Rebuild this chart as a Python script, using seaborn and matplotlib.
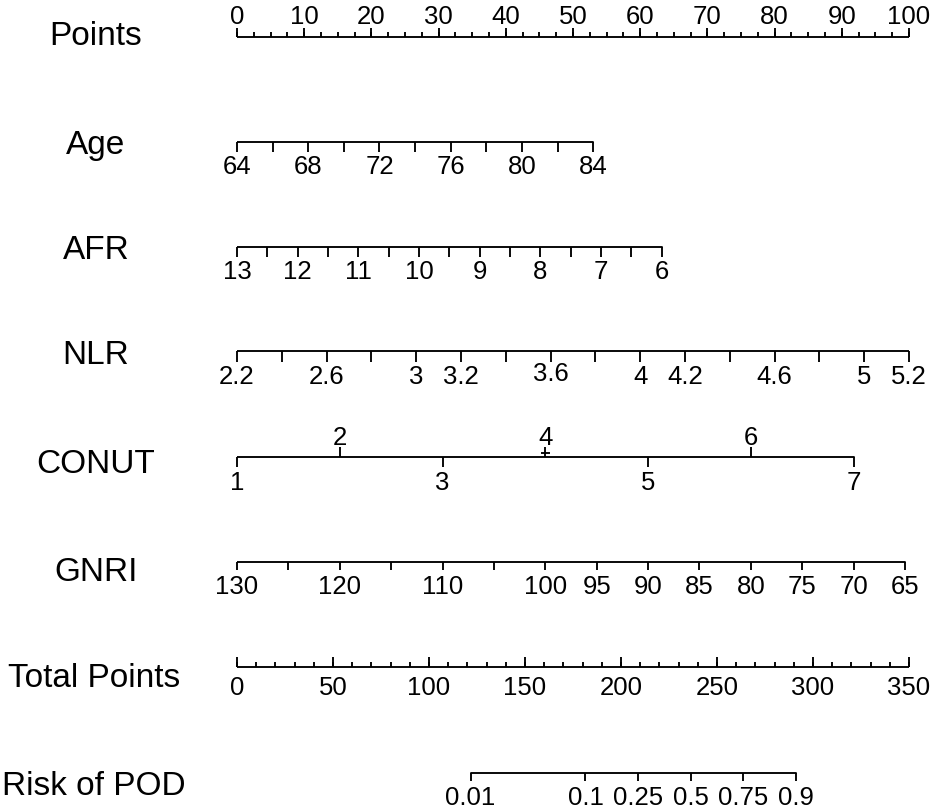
import numpy as np
import pandas as pd
import matplotlib
matplotlib.use("Agg")
import matplotlib.pyplot as plt
import seaborn as sns

# ---------------- data ----------------
points_major = [0, 10, 20, 30, 40, 50, 60, 70, 80, 90, 100]
points_minor_step = 2.5

age_range = [64, 84]            # variable range
age_points = [0.0, 53.0]        # points at the ends of the range
age_ticks = [64, 66, 68, 70, 72, 74, 76, 78, 80, 82, 84]
age_labels = [64, 68, 72, 76, 80, 84]

afr_range = [13, 6]
afr_points = [0.0, 63.2]
afr_ticks = [13, 12.5, 12, 11.5, 11, 10.5, 10, 9.5, 9, 8.5, 8, 7.5, 7, 6.5, 6]
afr_labels = [13, 12, 11, 10, 9, 8, 7, 6]

nlr_range = [2.2, 5.2]
nlr_points = [0.0, 100.0]
nlr_ticks = [2.2, 2.4, 2.6, 2.8, 3.0, 3.2, 3.4, 3.6, 3.8, 4.0, 4.2, 4.4, 4.6, 4.8, 5.0, 5.2]
nlr_labels = ["2.2", "2.6", "3", "3.2", "3.6", "4", "4.2", "4.6", "5", "5.2"]

conut_range = [1, 7]
conut_points = [0.0, 91.8]
conut_below = [1, 3, 5, 7]
conut_above = [2, 4, 6]

gnri_range = [130, 65]
gnri_points = [0.0, 99.4]
gnri_ticks = [130, 125, 120, 115, 110, 105, 100, 95, 90, 85, 80, 75, 70, 65]
gnri_labels = [130, 120, 110, 100, 95, 90, 85, 80, 75, 70, 65]

total_max = 350
total_major = [0, 50, 100, 150, 200, 250, 300, 350]
total_minor_step = 10

risk_values = [0.01, 0.1, 0.25, 0.5, 0.75, 0.9]
risk_labels = ["0.01", "0.1", "0.25", "0.5", "0.75", "0.9"]
risk_tp_at_half = 236.3       # total points where risk = 0.5
risk_tp_per_logit = 24.95     # total points per unit of log-odds

row_names = ["Points", "Age", "AFR", "NLR", "CONUT", "GNRI", "Total Points", "Risk of POD"]


def to_points(v, rng, pts):
    v = np.asarray(v, dtype=float)
    return pts[0] + (v - rng[0]) / (rng[1] - rng[0]) * (pts[1] - pts[0])


def total_to_x(tp):
    return np.asarray(tp, dtype=float) / total_max * 100.0


def risk_to_x(p):
    p = np.asarray(p, dtype=float)
    tp = risk_tp_at_half + risk_tp_per_logit * np.log(p / (1 - p))
    return total_to_x(tp)


# ---------------- figure ----------------
sns.set_theme(style="white")
plt.rcParams["font.family"] = ["Liberation Sans", "DejaVu Sans"]

W, H = 935, 809
fig = plt.figure(figsize=(W / 100, H / 100), dpi=100)
x0_px, x1_px = 237, 909
ax = fig.add_axes([x0_px / W, 0, (x1_px - x0_px) / W, 1])
ax.set_xlim(0, 100)
ax.set_ylim(H, 0)
ax.axis("off")

LW = 1.35
TICK_FS = 18.5
NAME_FS = 24
col = "black"

# row layout (pixel rows)
row_line_y = [37, 142, 247, 351, 457, 562, 667, 773]
name_base_y = [45, 154, 259, 364, 473, 581, 687, 795]
name_x_px = [96, 96, 96, 96, 96, 96, 94, 94]


def px_to_x(px):
    return (px - x0_px) / (x1_px - x0_px) * 100.0


def axis_line(xs, y):
    df = pd.DataFrame({"x": [min(xs), max(xs)], "y": [y, y]})
    sns.lineplot(data=df, x="x", y="y", ax=ax, color=col, lw=LW,
                 estimator=None, sort=False, legend=False)


def ticks(xs, y, length):
    ax.vlines(xs, y, y + length, color=col, lw=LW, clip_on=False)


def labels(xs, texts, y, dy=None):
    for i, (x, t) in enumerate(zip(xs, texts)):
        yy = y if dy is None else y + dy[i]
        ax.text(x, yy, str(t), ha="center", va="baseline", fontsize=TICK_FS,
                color=col, clip_on=False)


# Points
y = row_line_y[0]
pmin = np.arange(0, 100 + 1e-9, points_minor_step)
axis_line(pmin, y)
ticks(pmin, y, -5)
ticks(points_major, y, -9)
labels(points_major, points_major, 24)

# Age
y = row_line_y[1]
xs = to_points(age_ticks, age_range, age_points)
axis_line(xs, y)
ticks(xs, y, 10)
labels(to_points(age_labels, age_range, age_points), age_labels, 174)

# AFR
y = row_line_y[2]
xs = to_points(afr_ticks, afr_range, afr_points)
axis_line(xs, y)
ticks(xs, y, 10)
labels(to_points(afr_labels, afr_range, afr_points), afr_labels, 279)

# NLR
y = row_line_y[3]
xs = to_points(nlr_ticks, nlr_range, nlr_points)
axis_line(xs, y)
ticks(xs, y, 11)
nlr_vals = [float(s) for s in nlr_labels]
dy = [(-3 if s == "3.6" else 0) for s in nlr_labels]
labels(to_points(nlr_vals, nlr_range, nlr_points), nlr_labels, 384, dy)

# CONUT
y = row_line_y[4]
xb = to_points(conut_below, conut_range, conut_points)
xa = to_points(conut_above, conut_range, conut_points)
axis_line(np.concatenate([xb, xa]), y)
ticks(xb, y, 10)
ticks(xa, y, -10)
labels(xb, conut_below, 490)
labels(xa, conut_above, 445)
# small dash under the "4" label
x4 = to_points(4, conut_range, conut_points)
ax.hlines(y - 4, x4 - 0.65, x4 + 0.65, color=col, lw=LW)

# GNRI
y = row_line_y[5]
xs = to_points(gnri_ticks, gnri_range, gnri_points)
axis_line(xs, y)
ticks(xs, y, 8)
labels(to_points(gnri_labels, gnri_range, gnri_points), gnri_labels, 594)

# Total Points
y = row_line_y[6]
tmin = np.arange(0, total_max + 1e-9, total_minor_step)
axis_line(total_to_x(tmin), y)
ticks(total_to_x(tmin), y, -5)
ticks(total_to_x(total_major), y, -10)
labels(total_to_x(total_major), total_major, 695)

# Risk of POD
y = row_line_y[7]
xs = risk_to_x(risk_values)
axis_line(xs, y)
ticks(xs, y, 8)
labels(xs, risk_labels, 805)

# row names
for name, bx, by in zip(row_names, name_x_px, name_base_y):
    ax.text(px_to_x(bx), by, name, ha="center", va="baseline",
            fontsize=NAME_FS, color=col, clip_on=False)

fig.savefig("out.png", dpi=100, facecolor="white")
